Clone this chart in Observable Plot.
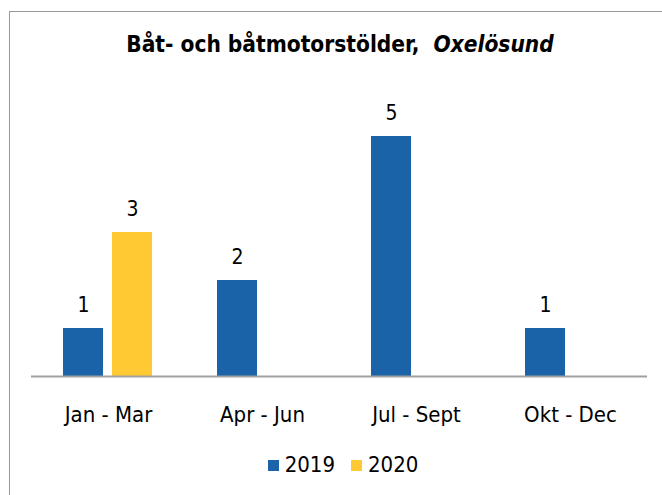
<!DOCTYPE html>
<html>
<head>
<meta charset="utf-8">
<script src="https://cdn.jsdelivr.net/npm/d3@7"></script>
<script src="https://cdn.jsdelivr.net/npm/@observablehq/plot@0.6"></script>
<style>
  html, body { margin: 0; padding: 0; background: #fff; }
  #wrap { position: relative; width: 662px; height: 495px; overflow: hidden; font-family: "Liberation Sans Narrow", "DejaVu Sans Condensed", "Open Sans", sans-serif; }
  #frame { position: absolute; left: 9px; top: 11px; width: 700px; height: 600px; border-left: 1.5px solid #9a9a9a; border-top: 1.5px solid #9a9a9a; }
  #title { position: absolute; left: 9px; width: 662px; top: 31px; text-align: center; font-size: 22.5px; font-weight: bold; color: #000; }
  #legend { position: absolute; left: 12px; width: 662px; top: 452px; text-align: center; font-size: 22px; color: #000; }
  .sw { display: inline-block; width: 11px; height: 11px; margin-right: 6px; vertical-align: 1px; }
  .item { margin: 0 8px; }
  #chart { position: absolute; left: 0; top: 0; }
</style>
</head>
<body>
<div id="wrap">
  <div id="frame"></div>
  <div id="title">Båt- och båtmotorstölder, &nbsp;<i>Oxelösund</i></div>
  <div id="chart"></div>
  <div id="legend"></div>
</div>
<script>
const quarters = ["Jan - Mar", "Apr - Jun", "Jul - Sept", "Okt - Dec"];
const years = ["2019", "2020"];
const values2019 = [1, 2, 5, 1];
const values2020 = [3, null, null, null];
const colors = ["#1b63a8", "#fec932"];

const data = [];
quarters.forEach((q, i) => {
  if (values2019[i] != null) data.push({quarter: q, year: years[0], value: values2019[i]});
  if (values2020[i] != null) data.push({quarter: q, year: years[1], value: values2020[i]});
});

const chart = Plot.plot({
  width: 662,
  height: 495,
  marginLeft: 30,
  marginRight: 14,
  marginTop: 88,
  marginBottom: 119,
  style: {fontFamily: '"Liberation Sans Narrow", "DejaVu Sans Condensed", sans-serif', fontSize: "22px", color: "#000", background: "transparent"},
  fx: {domain: quarters, padding: 0, label: null, tickSize: 0, tickPadding: 30},
  x: {domain: years, paddingInner: 0.18, paddingOuter: 0.635, axis: null},
  y: {domain: [0, 6], axis: null},
  color: {domain: years, range: colors},
  marks: [
    Plot.barY(data, {fx: "quarter", x: "year", y: "value", fill: "year"}),
    Plot.text(data, {fx: "quarter", x: "year", y: "value", text: d => String(d.value), dy: -23, fontSize: 21, fill: "#000"}),
    Plot.ruleY([0], {stroke: "#a0a0a0", strokeWidth: 2})
  ]
});
document.getElementById("chart").appendChild(chart);

const legend = document.getElementById("legend");
years.forEach((y, i) => {
  const span = document.createElement("span");
  span.className = "item";
  span.innerHTML = `<span class="sw" style="background:${colors[i]}"></span>${y}`;
  legend.appendChild(span);
});
</script>
</body>
</html>
